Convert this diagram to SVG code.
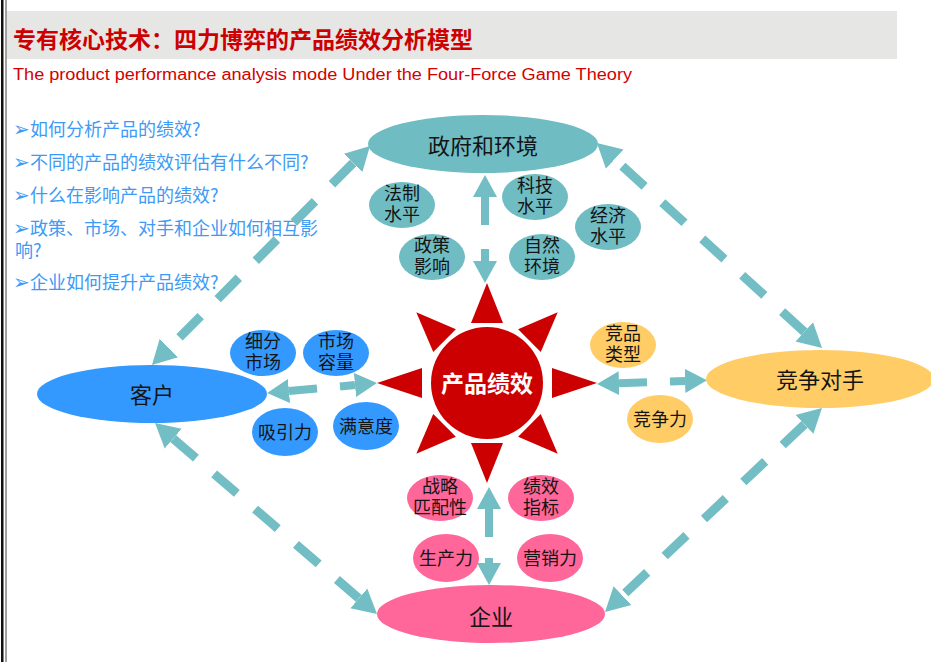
<svg xmlns="http://www.w3.org/2000/svg" xmlns:xlink="http://www.w3.org/1999/xlink" width="931" height="662" viewBox="0 0 931 662">
<defs>
<style>
.q{font-family:"Noto Sans CJK SC","Noto Sans",sans-serif;font-size:18px;fill:#3d9af5}
.bul{font-family:"DejaVu Sans",sans-serif;font-size:20px;fill:#3d9af5}
.big{font-family:"Noto Sans CJK SC",sans-serif;font-size:22px;fill:#141414;text-anchor:middle}
.sm{font-family:"Noto Sans CJK SC",sans-serif;font-size:18px;fill:#141414;text-anchor:middle}
.teal{fill:#6fbcc3}
.blue{fill:#3399ff}
.orng{fill:#ffcc66}
.pink{fill:#ff6699}
.red{fill:#cc0000}
.dash{fill:none;stroke:#72bec4;stroke-width:9;stroke-dasharray:30 24;marker-start:url(#hd);marker-end:url(#hd)}
.dbl{fill:none;stroke:#72bec4;stroke-width:8;marker-start:url(#hs);marker-end:url(#hs)}
</style>
<marker id="hd" markerUnits="userSpaceOnUse" viewBox="0 -14 26 28" markerWidth="26" markerHeight="28" refX="0" refY="0" orient="auto-start-reverse">
<path d="M0,-13 L24,0 L0,13 Z" fill="#72bec4"/>
</marker>
<marker id="hs" markerUnits="userSpaceOnUse" viewBox="0 -13 24 26" markerWidth="24" markerHeight="26" refX="0" refY="0" orient="auto-start-reverse">
<path d="M0,-12 L22,0 L0,12 Z" fill="#72bec4"/>
</marker>
<polygon id="ray" points="0,-100 -16,-60 16,-60"/>
</defs>
<rect x="0" y="0" width="931" height="662" fill="#ffffff"/>
<rect x="1" y="0" width="2.5" height="662" fill="#111"/>
<rect x="5.5" y="0" width="1" height="662" fill="#444"/>

<g id="header">
<rect x="7" y="11" width="890" height="48" fill="#e6e6e4"/>
<text x="13" y="48" font-family="Noto Sans CJK SC,sans-serif" font-size="23" font-weight="bold" fill="#cc0000">专有核心技术：四力博弈的产品绩效分析模型</text>
<text x="13" y="80" font-family="Liberation Sans,Arial,sans-serif" font-size="16" fill="#d40000" textLength="619" lengthAdjust="spacingAndGlyphs">The product performance analysis mode Under the Four-Force Game Theory</text>
</g>

<g id="questions">
<text y="136"><tspan class="bul" x="13">➢</tspan><tspan class="q" x="30">如何分析产品的绩效?</tspan></text>
<text y="169"><tspan class="bul" x="13">➢</tspan><tspan class="q" x="30">不同的产品的绩效评估有什么不同?</tspan></text>
<text y="202"><tspan class="bul" x="13">➢</tspan><tspan class="q" x="30">什么在影响产品的绩效?</tspan></text>
<text y="235"><tspan class="bul" x="13">➢</tspan><tspan class="q" x="30">政策、市场、对手和企业如何相互影</tspan></text>
<text y="257"><tspan class="q" x="15">响?</tspan></text>
<text y="289"><tspan class="bul" x="13">➢</tspan><tspan class="q" x="30">企业如何提升产品绩效?</tspan></text>
</g>

<g id="connectors">
<path class="dash" d="M353.1,163 L168.9,348"/>
<path class="dash" d="M804.3,331.8 L614.7,159.2"/>
<path class="dash" d="M173.2,438.6 L358.8,598.4"/>
<path class="dash" d="M804.5,424.4 L622.5,595.6"/>
<path class="dbl" d="M485,197 V225 M485,249 V261"/>
<path class="dbl" d="M489,509 V537 M489,558 V563"/>
<path class="dbl" d="M289,391 L317,388.5 M340,386.4 L355,385"/>
<path class="dbl" d="M619,383.2 L647,382.2 M670,381.4 L685,380.9"/>
</g>

<g id="sun" class="red">
<g transform="translate(487,383)">
<use xlink:href="#ray"/>
<use xlink:href="#ray" transform="rotate(45)"/>
<use xlink:href="#ray" transform="rotate(135)"/>
<use xlink:href="#ray" transform="rotate(180)"/>
<use xlink:href="#ray" transform="rotate(225)"/>
<use xlink:href="#ray" transform="rotate(315)"/>
<polygon points="-110,0 -65,-15 -65,15"/>
<polygon points="110,0 65,-15 65,15"/>
<circle cx="0" cy="0" r="56"/>
</g>
<text x="487" y="392" font-family="Noto Sans CJK SC,sans-serif" font-size="23" font-weight="bold" fill="#ffffff" text-anchor="middle">产品绩效</text>
</g>

<g id="gov"><ellipse class="teal" cx="483" cy="144" rx="115" ry="29"/><text class="big" x="483" y="154">政府和环境</text></g>
<g id="customer"><ellipse class="blue" cx="152" cy="394" rx="115" ry="29"/><text class="big" x="152" y="403">客户</text></g>
<g id="competitor"><ellipse class="orng" cx="820" cy="379" rx="114" ry="29"/><text class="big" x="820" y="388">竞争对手</text></g>
<g id="enterprise"><ellipse class="pink" cx="491" cy="614" rx="114" ry="29"/><text class="big" x="491" y="625">企业</text></g>

<g id="n-fazhi"><ellipse class="teal" cx="402" cy="205" rx="33" ry="23"/><text class="sm" x="402" y="199.5">法制<tspan x="402" dy="21">水平</tspan></text></g>
<g id="n-keji"><ellipse class="teal" cx="535" cy="197" rx="33" ry="23"/><text class="sm" x="535" y="191.5">科技<tspan x="535" dy="21">水平</tspan></text></g>
<g id="n-jingji"><ellipse class="teal" cx="608" cy="227" rx="33" ry="23"/><text class="sm" x="608" y="221.5">经济<tspan x="608" dy="21">水平</tspan></text></g>
<g id="n-zhengce"><ellipse class="teal" cx="432" cy="257" rx="33" ry="23"/><text class="sm" x="432" y="251.5">政策<tspan x="432" dy="21">影响</tspan></text></g>
<g id="n-ziran"><ellipse class="teal" cx="542" cy="257" rx="33" ry="23"/><text class="sm" x="542" y="251.5">自然<tspan x="542" dy="21">环境</tspan></text></g>

<g id="n-xifen"><ellipse class="blue" cx="263" cy="353" rx="33" ry="23"/><text class="sm" x="263" y="347.5">细分<tspan x="263" dy="21">市场</tspan></text></g>
<g id="n-rongliang"><ellipse class="blue" cx="336" cy="353" rx="33" ry="23"/><text class="sm" x="336" y="347.5">市场<tspan x="336" dy="21">容量</tspan></text></g>
<g id="n-xiyin"><ellipse class="blue" cx="285" cy="432" rx="33" ry="24"/><text class="sm" x="285" y="439">吸引力</text></g>
<g id="n-manyi"><ellipse class="blue" cx="366" cy="426" rx="33" ry="24"/><text class="sm" x="366" y="433">满意度</text></g>

<g id="n-jingpin"><ellipse class="orng" cx="623" cy="345" rx="33" ry="23"/><text class="sm" x="623" y="339.5">竞品<tspan x="623" dy="21">类型</tspan></text></g>
<g id="n-jingzhengli"><ellipse class="orng" cx="660" cy="419" rx="33" ry="24"/><text class="sm" x="660" y="426">竞争力</text></g>

<g id="n-zhanlue"><ellipse class="pink" cx="440" cy="498" rx="33" ry="23"/><text class="sm" x="440" y="492.5">战略<tspan x="440" dy="21">匹配性</tspan></text></g>
<g id="n-jixiao"><ellipse class="pink" cx="541" cy="498" rx="33" ry="23"/><text class="sm" x="541" y="492.5">绩效<tspan x="541" dy="21">指标</tspan></text></g>
<g id="n-shengchan"><ellipse class="pink" cx="446" cy="558" rx="33" ry="24"/><text class="sm" x="446" y="565">生产力</text></g>
<g id="n-yingxiao"><ellipse class="pink" cx="550" cy="558" rx="33" ry="24"/><text class="sm" x="550" y="565">营销力</text></g>
</svg>
